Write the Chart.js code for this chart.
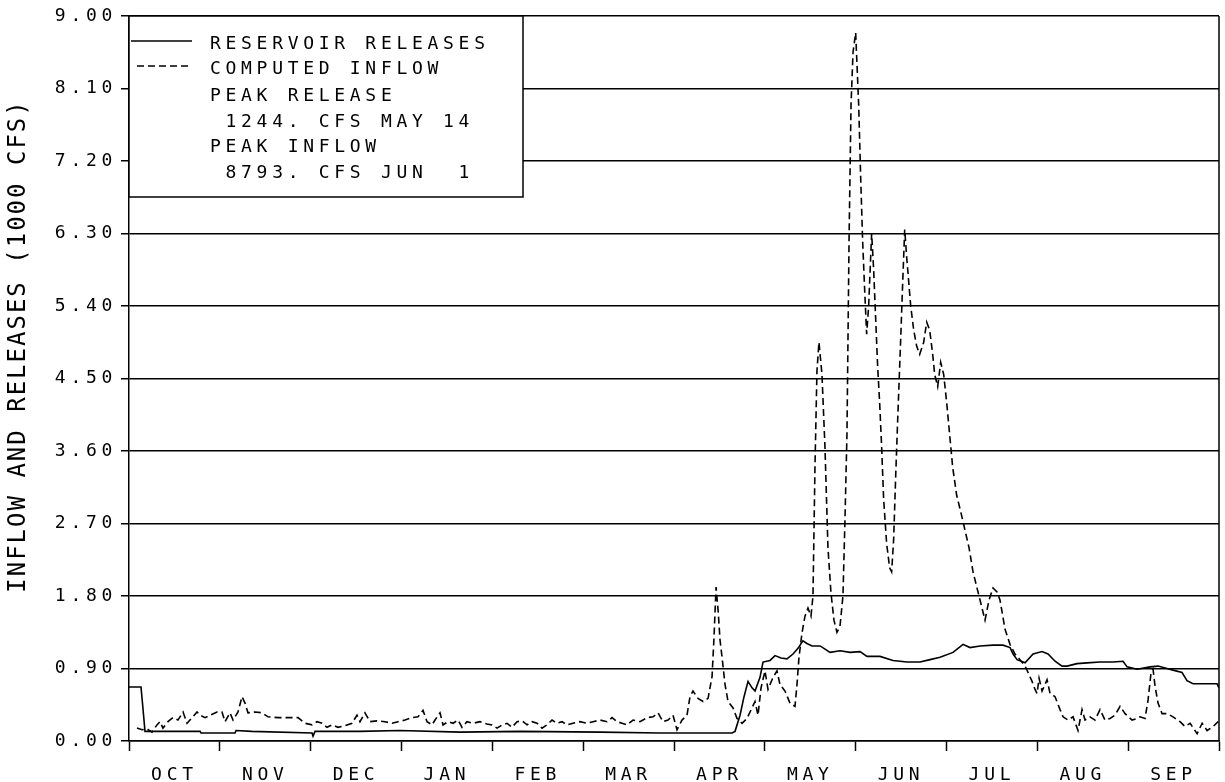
<!DOCTYPE html>
<html>
<head>
<meta charset="utf-8">
<script src="https://cdn.jsdelivr.net/npm/chart.js@4/dist/chart.umd.min.js"></script>
<style>
  html, body { margin: 0; padding: 0; background: #fff; }
  canvas { display: block; }
</style>
</head>
<body>
<canvas id="chart" width="1225" height="782"></canvas>
<script>
// Water year October - September; time is measured in months since Oct 1
const MONTHS = ['OCT', 'NOV', 'DEC', 'JAN', 'FEB', 'MAR', 'APR', 'MAY', 'JUN', 'JUL', 'AUG', 'SEP'];
const MONTH_DAYS = [31, 30, 31, 31, 28, 31, 30, 31, 30, 31, 31, 30];
const Y_TICKS = [0, 0.9, 1.8, 2.7, 3.6, 4.5, 5.4, 6.3, 7.2, 8.1, 9.0];
const Y_TITLE = 'INFLOW AND RELEASES (1000 CFS)';

// Reservoir releases (1000 cfs)
const releaseT = [
  0.000, 0.132, 0.154, 0.176, 0.782, 0.793, 1.167, 1.178, 1.354, 2.015, 2.026, 2.048,
  2.543, 2.984, 3.644, 4.305, 5.186, 5.846, 6.286, 6.639, 6.672, 6.727, 6.771, 6.815,
  6.859, 6.892, 6.947, 6.980, 7.057, 7.112, 7.178, 7.244, 7.310, 7.365, 7.419, 7.464,
  7.520, 7.608, 7.663, 7.718, 7.828, 7.938, 8.048, 8.125, 8.268, 8.411, 8.566, 8.709,
  8.819, 8.929, 9.072, 9.182, 9.259, 9.369, 9.512, 9.622, 9.700, 9.733, 9.777, 9.865,
  9.953, 10.052, 10.118, 10.195, 10.272, 10.327, 10.437, 10.547, 10.690, 10.833, 10.944, 10.988,
  11.098, 11.241, 11.329, 11.428, 11.494, 11.593, 11.648, 11.714, 11.869, 11.979, 12.000
];
const releaseK = [
  0.67, 0.67, 0.40, 0.12, 0.12, 0.10, 0.10, 0.13, 0.12, 0.10, 0.06, 0.12,
  0.12, 0.13, 0.11, 0.12, 0.11, 0.10, 0.10, 0.10, 0.12, 0.32, 0.55, 0.74,
  0.66, 0.62, 0.79, 0.98, 1.00, 1.06, 1.03, 1.02, 1.08, 1.15, 1.244, 1.21,
  1.18, 1.18, 1.14, 1.10, 1.12, 1.10, 1.11, 1.05, 1.05, 1.00, 0.98, 0.98,
  1.01, 1.04, 1.10, 1.20, 1.16, 1.18, 1.19, 1.19, 1.16, 1.08, 1.01, 0.97,
  1.08, 1.11, 1.08, 0.99, 0.93, 0.93, 0.96, 0.97, 0.98, 0.98, 0.99, 0.92,
  0.89, 0.92, 0.93, 0.90, 0.88, 0.85, 0.75, 0.71, 0.71, 0.71, 0.66
];

// Computed inflow (1000 cfs)
const inflowT = [
  0.088, 0.143, 0.198, 0.253, 0.308, 0.341, 0.374, 0.429, 0.484, 0.539, 0.595, 0.639,
  0.694, 0.749, 0.782, 0.837, 0.892, 0.969, 1.024, 1.057, 1.112, 1.145, 1.200, 1.244,
  1.277, 1.310, 1.387, 1.464, 1.530, 1.640, 1.718, 1.795, 1.861, 1.938, 2.015, 2.070,
  2.125, 2.180, 2.235, 2.301, 2.378, 2.455, 2.510, 2.543, 2.598, 2.653, 2.730, 2.818,
  2.896, 2.962, 3.039, 3.116, 3.182, 3.237, 3.281, 3.336, 3.369, 3.424, 3.457, 3.512,
  3.567, 3.622, 3.666, 3.721, 3.787, 3.864, 3.941, 3.997, 4.052, 4.107, 4.162, 4.217,
  4.272, 4.327, 4.382, 4.437, 4.492, 4.547, 4.602, 4.657, 4.712, 4.767, 4.822, 4.888,
  4.965, 5.042, 5.109, 5.186, 5.263, 5.318, 5.373, 5.428, 5.483, 5.549, 5.626, 5.703,
  5.769, 5.824, 5.879, 5.934, 5.989, 6.033, 6.088, 6.143, 6.176, 6.209, 6.264, 6.320,
  6.375, 6.419, 6.441, 6.463, 6.485, 6.507, 6.529, 6.562, 6.595, 6.650, 6.694, 6.749,
  6.804, 6.837, 6.892, 6.925, 6.958, 7.002, 7.035, 7.090, 7.134, 7.167, 7.222, 7.277,
  7.332, 7.354, 7.376, 7.409, 7.442, 7.475, 7.508, 7.530, 7.552, 7.574, 7.596, 7.629,
  7.662, 7.695, 7.728, 7.761, 7.794, 7.827, 7.860, 7.882, 7.904, 7.927, 7.949, 7.971,
  8.000, 8.033, 8.055, 8.077, 8.099, 8.121, 8.143, 8.176, 8.198, 8.220, 8.242, 8.264,
  8.286, 8.308, 8.341, 8.374, 8.396, 8.418, 8.441, 8.463, 8.496, 8.518, 8.540, 8.562,
  8.584, 8.606, 8.639, 8.672, 8.705, 8.749, 8.782, 8.815, 8.848, 8.870, 8.903, 8.936,
  8.969, 9.002, 9.035, 9.068, 9.112, 9.156, 9.207, 9.248, 9.292, 9.336, 9.380, 9.424,
  9.468, 9.512, 9.556, 9.589, 9.644, 9.699, 9.754, 9.809, 9.865, 9.898, 9.942, 9.975,
  9.997, 10.019, 10.052, 10.107, 10.140, 10.195, 10.250, 10.283, 10.338, 10.393, 10.448, 10.492,
  10.525, 10.580, 10.635, 10.690, 10.745, 10.800, 10.855, 10.911, 10.966, 11.043, 11.098, 11.131,
  11.186, 11.219, 11.252, 11.274, 11.296, 11.329, 11.373, 11.428, 11.494, 11.571, 11.626, 11.682,
  11.759, 11.814, 11.869, 11.935, 11.990
];
const inflowK = [
  0.16, 0.14, 0.15, 0.11, 0.20, 0.24, 0.16, 0.24, 0.29, 0.26, 0.36, 0.22,
  0.29, 0.36, 0.32, 0.29, 0.32, 0.36, 0.36, 0.24, 0.35, 0.26, 0.36, 0.55,
  0.47, 0.35, 0.36, 0.35, 0.30, 0.29, 0.29, 0.29, 0.29, 0.22, 0.20, 0.24,
  0.22, 0.17, 0.20, 0.17, 0.19, 0.22, 0.32, 0.24, 0.35, 0.24, 0.25, 0.24,
  0.22, 0.24, 0.26, 0.29, 0.30, 0.38, 0.24, 0.20, 0.26, 0.35, 0.20, 0.24,
  0.22, 0.26, 0.17, 0.24, 0.22, 0.24, 0.21, 0.20, 0.16, 0.20, 0.22, 0.17,
  0.24, 0.25, 0.20, 0.24, 0.22, 0.16, 0.20, 0.26, 0.22, 0.24, 0.20, 0.22,
  0.24, 0.22, 0.24, 0.26, 0.24, 0.29, 0.24, 0.22, 0.20, 0.26, 0.24, 0.29,
  0.30, 0.35, 0.24, 0.26, 0.32, 0.14, 0.26, 0.32, 0.55, 0.62, 0.53, 0.49,
  0.53, 0.80, 1.30, 1.91, 1.63, 1.25, 1.04, 0.70, 0.49, 0.41, 0.28, 0.22,
  0.28, 0.36, 0.49, 0.32, 0.66, 0.87, 0.64, 0.79, 0.87, 0.70, 0.62, 0.47,
  0.43, 0.70, 1.04, 1.34, 1.55, 1.65, 1.55, 1.80, 3.40, 4.60, 4.95, 4.55,
  3.65, 2.40, 1.84, 1.50, 1.35, 1.42, 1.80, 2.74, 3.80, 6.20, 7.90, 8.55,
  8.793, 7.90, 7.00, 6.20, 5.60, 5.05, 5.40, 6.30, 5.85, 5.25, 4.65, 4.20,
  3.65, 3.00, 2.45, 2.15, 2.10, 2.50, 3.30, 4.00, 5.00, 5.70, 6.35, 6.00,
  5.70, 5.40, 5.10, 4.90, 4.80, 4.95, 5.20, 5.10, 4.80, 4.55, 4.40, 4.70,
  4.55, 4.20, 3.80, 3.40, 3.05, 2.85, 2.60, 2.40, 2.10, 1.90, 1.70, 1.50,
  1.75, 1.90, 1.85, 1.75, 1.39, 1.20, 1.08, 1.01, 0.93, 0.85, 0.74, 0.64,
  0.59, 0.78, 0.62, 0.76, 0.59, 0.55, 0.39, 0.30, 0.26, 0.30, 0.13, 0.39,
  0.26, 0.30, 0.26, 0.39, 0.26, 0.28, 0.32, 0.43, 0.34, 0.26, 0.28, 0.30,
  0.28, 0.51, 0.85, 0.89, 0.68, 0.47, 0.34, 0.34, 0.30, 0.24, 0.18, 0.22,
  0.09, 0.22, 0.13, 0.18, 0.24
];

const FONT_FAMILY = '"DejaVu Sans Mono", "Liberation Mono", monospace';
const LETTER_SPACING = '4.7px';

function toPoints(ts, vs) {
  return ts.map((t, i) => ({ x: t, y: vs[i] }));
}

// Peak value and its calendar date, e.g. " 1244. CFS MAY 14"
function peakText(ts, vs) {
  let k = 0;
  vs.forEach((v, i) => { if (v > vs[k]) k = i; });
  const m = Math.floor(ts[k] + 1e-6);
  const day = Math.round((ts[k] - m) * MONTH_DAYS[m]) + 1;
  return ' ' + Math.round(vs[k] * 1000) + '. CFS ' + MONTHS[m] + ' ' + String(day).padStart(2, ' ');
}

// Plotter-style wide lettering for everything drawn on the canvas
const wideLettering = {
  id: 'wideLettering',
  beforeInit(chart) { chart.ctx.letterSpacing = LETTER_SPACING; },
  beforeUpdate(chart) { chart.ctx.letterSpacing = LETTER_SPACING; },
  beforeDraw(chart) { chart.ctx.letterSpacing = LETTER_SPACING; }
};

// Frame, axis title and the boxed legend with peak figures
const annotations = {
  id: 'annotations',
  afterDraw(chart) {
    const ctx = chart.ctx;
    const a = chart.chartArea;
    ctx.save();
    ctx.letterSpacing = LETTER_SPACING;

    // right frame edge
    ctx.strokeStyle = '#000';
    ctx.lineWidth = 1.5;
    ctx.beginPath();
    ctx.moveTo(a.right, a.top);
    ctx.lineTo(a.right, a.bottom);
    ctx.stroke();

    // rotated y-axis title
    ctx.save();
    ctx.translate(19, 346);
    ctx.rotate(-Math.PI / 2);
    ctx.font = '24px ' + FONT_FAMILY;
    ctx.letterSpacing = '2px';
    ctx.fillStyle = '#000';
    ctx.textAlign = 'center';
    ctx.textBaseline = 'middle';
    ctx.fillText(Y_TITLE, 0, 0);
    ctx.restore();

    // legend box
    const bx = a.left, by = a.top, bw = 394, bh = 181;
    ctx.fillStyle = '#fff';
    ctx.fillRect(bx, by, bw, bh);
    ctx.strokeStyle = '#000';
    ctx.lineWidth = 1.5;
    ctx.strokeRect(bx, by, bw, bh);

    const ds = chart.data.datasets;
    ctx.lineWidth = ds[0].borderWidth;
    ctx.setLineDash([]);
    ctx.beginPath();
    ctx.moveTo(bx + 2, by + 25);
    ctx.lineTo(bx + 63, by + 25);
    ctx.stroke();
    ctx.lineWidth = ds[1].borderWidth;
    ctx.setLineDash(ds[1].borderDash);
    ctx.beginPath();
    ctx.moveTo(bx + 8, by + 50);
    ctx.lineTo(bx + 62, by + 50);
    ctx.stroke();
    ctx.setLineDash([]);

    const lines = [
      ds[0].label,
      ds[1].label,
      'PEAK RELEASE',
      peakText(releaseT, releaseK),
      'PEAK INFLOW',
      peakText(inflowT, inflowK)
    ];
    const rowY = [28, 53, 80, 106, 131, 157];
    ctx.font = '18px ' + FONT_FAMILY;
    ctx.fillStyle = '#000';
    ctx.textAlign = 'left';
    ctx.textBaseline = 'middle';
    lines.forEach((s, i) => ctx.fillText(s, bx + 81, by + rowY[i]));
    ctx.restore();
  }
};

const tickFont = { family: FONT_FAMILY, size: 18 };

new Chart(document.getElementById('chart'), {
  type: 'line',
  data: {
    datasets: [
      {
        label: 'RESERVOIR RELEASES',
        data: toPoints(releaseT, releaseK),
        borderColor: '#000',
        borderWidth: 1.6,
        pointRadius: 0,
        tension: 0,
        fill: false
      },
      {
        label: 'COMPUTED INFLOW',
        data: toPoints(inflowT, inflowK),
        borderColor: '#000',
        borderWidth: 1.6,
        borderDash: [7, 4],
        pointRadius: 0,
        tension: 0,
        fill: false
      }
    ]
  },
  options: {
    responsive: false,
    animation: false,
    devicePixelRatio: 1,
    layout: { padding: { top: 16, right: 6, left: 0, bottom: 0 } },
    plugins: {
      legend: { display: false },
      tooltip: { enabled: false }
    },
    scales: {
      x: {
        type: 'linear',
        min: 0,
        max: 12,
        afterBuildTicks(scale) {
          const ticks = [];
          for (let i = 0; i <= MONTHS.length; i++) {
            ticks.push({ value: i });
            if (i < MONTHS.length) ticks.push({ value: i + 0.5 });
          }
          scale.ticks = ticks;
        },
        ticks: {
          autoSkip: false,
          maxRotation: 0,
          minRotation: 0,
          padding: 14,
          color: '#000',
          font: tickFont,
          callback: (v) => Number.isInteger(v) ? '' : MONTHS[Math.floor(v)]
        },
        grid: {
          drawOnChartArea: false,
          drawTicks: true,
          tickLength: 10,
          tickWidth: 1.5,
          tickColor: (c) => (c.tick && Number.isInteger(c.tick.value)) ? '#000' : 'rgba(0,0,0,0)'
        },
        border: { display: true, color: '#000', width: 1.5 },
        afterFit(scale) {
          scale.height = 41;
          scale.paddingLeft = 0;
          scale.paddingRight = 0;
        }
      },
      y: {
        type: 'linear',
        min: 0,
        max: 9,
        afterBuildTicks(scale) {
          scale.ticks = Y_TICKS.map((v) => ({ value: v }));
        },
        ticks: {
          padding: 4,
          color: '#000',
          font: tickFont,
          callback: (v) => v.toFixed(2)
        },
        grid: {
          color: '#000',
          lineWidth: 1.5,
          drawTicks: true,
          tickLength: 8
        },
        border: { display: true, color: '#000', width: 1.5 },
        afterFit(scale) { scale.width = 129; }
      }
    }
  },
  plugins: [wideLettering, annotations]
});
</script>
</body>
</html>
